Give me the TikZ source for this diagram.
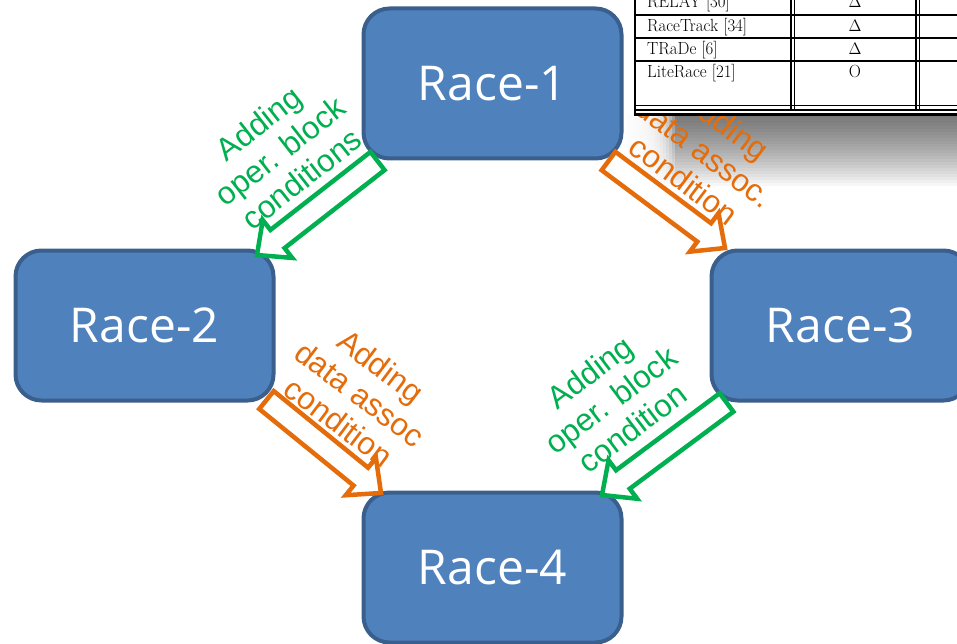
\documentclass[tikz,border=0pt]{standalone}
\usepackage{fontspec}
\newfontfamily\boxfont{Open Sans}
\newfontfamily\labelfont{Liberation Sans}
\usetikzlibrary{calc}

\definecolor{boxfill}{HTML}{4F81BD}
\definecolor{boxedge}{HTML}{3A5F8C}
\definecolor{grn}{HTML}{00B050}
\definecolor{org}{HTML}{E46C0A}

\tikzset{
  racebox/.style={draw=boxedge, fill=boxfill, line width=4pt, rounded corners=26pt,
    minimum width=258pt, minimum height=150pt, inner sep=0pt, text=white,
    font=\boxfont\fontsize{48}{52}\selectfont},
  steplabel/.style={align=center, inner sep=0pt,
    font=\labelfont\fontsize{31.5}{35}\selectfont},
  blockarr/.style={line width=4.5pt, fill=white, line join=miter},
  tabrule/.style={line width=1.4pt},
  tabframe/.style={line width=2.4pt},
  tabtext/.style={inner sep=0pt, font=\fontsize{15.3}{17}\selectfont},
}

% outlined block arrow: #1 colour, #2 tail coordinate, #3 tip coordinate
\newcommand\blockarrow[3]{%
  \coordinate (ba-h) at ($(#3)!26pt!(#2)$);
  \draw[blockarr, draw=#1]
    ($(#2)!11.5pt!90:(#3)$) -- ($(ba-h)!11.5pt!90:(#3)$) -- ($(ba-h)!24pt!90:(#3)$)
    -- (#3)
    -- ($(ba-h)!24pt!-90:(#3)$) -- ($(ba-h)!11.5pt!-90:(#3)$) -- ($(#2)!11.5pt!-90:(#3)$)
    -- cycle;
}

\newcommand\tabcell[1]{\scalebox{1.1}[1.15]{#1}}

\begin{document}
\begin{tikzpicture}[x=1pt, y=-1pt]
  \useasboundingbox (0,0) rectangle (957,644);
  \clip (0,0) rectangle (957,644);

  % the four race stages
  \node[racebox] (r1) at (492.5,83.5) {Race-1};
  \node[racebox] (r2) at (144.5,325.5) {Race-2};
  \node[racebox] (r3) at (840.5,325.5) {Race-3};
  \node[racebox] (r4) at (492.5,567.5) {Race-4};

  % soft drop shadow under the table: stacked translucent layers,
  % darkest right under the table, then whitened towards the left end
  \foreach \k in {1,...,24}
    \fill[black, opacity=0.03] (627,114) rectangle (957,114+3*\k);
  \foreach \k in {1,...,16}
    \fill[white, opacity=0.25] (627,112) rectangle (627+3*\k,190);

  % transition labels
  \node[steplabel, text=grn, rotate=38] (l12) at (280,151)
    {Adding\\oper. block\\conditions};
  \node[steplabel, text=org, rotate=-37] (l13) at (705,152)
    {Adding\\data assoc.\\condition};
  \node[steplabel, text=org, rotate=-37] (l24) at (360,394)
    {Adding\\data assoc\\condition};
  \node[steplabel, text=grn, rotate=37] (l34) at (611,400)
    {Adding\\oper. block\\condition};

  % transition arrows
  \coordinate (ga-s) at (377.5,161);  \coordinate (ga-e) at (257,255);
  \coordinate (oa-s) at (608.5,161);  \coordinate (oa-e) at (725,248);
  \coordinate (ob-s) at (266.5,400);  \coordinate (ob-e) at (381,493);
  \coordinate (gb-s) at (726.5,402.5);\coordinate (gb-e) at (602,495);
  \blockarrow{grn}{ga-s}{ga-e}
  \blockarrow{org}{oa-s}{oa-e}
  \blockarrow{org}{ob-s}{ob-e}
  \blockarrow{grn}{gb-s}{gb-e}

  % comparison table excerpt
  \fill[white] (635,-5) rectangle (965,114.5);
  \foreach \yy in {15,38,61} \draw[tabrule] (635,\yy) -- (965,\yy);
  \foreach \yy in {105.5,110} \draw[line width=1.1pt] (635,\yy) -- (965,\yy);
  \foreach \xx in {791,794.5,916,919.5} \draw[tabrule] (\xx,-5) -- (\xx,110);
  \draw[tabframe] (635,-5) -- (635,114.5) -- (965,114.5);

  \node[tabtext, anchor=base west] (n1) at (647,8)    {\tabcell{RELAY [30]}};
  \node[tabtext, anchor=base west] (n2) at (647,31.5) {\tabcell{RaceTrack [34]}};
  \node[tabtext, anchor=base west] (n3) at (647,54.5) {\tabcell{TRaDe [6]}};
  \node[tabtext, anchor=base west] (n4) at (647,77.5) {\tabcell{LiteRace [21]}};
  \node[tabtext, anchor=base] (m1) at (855,8)    {\tabcell{$\Delta$}};
  \node[tabtext, anchor=base] (m2) at (855,31.5) {\tabcell{$\Delta$}};
  \node[tabtext, anchor=base] (m3) at (855,54.5) {\tabcell{$\Delta$}};
  \node[tabtext, anchor=base] (m4) at (855,77.5) {\tabcell{O}};
\end{tikzpicture}
\end{document}
